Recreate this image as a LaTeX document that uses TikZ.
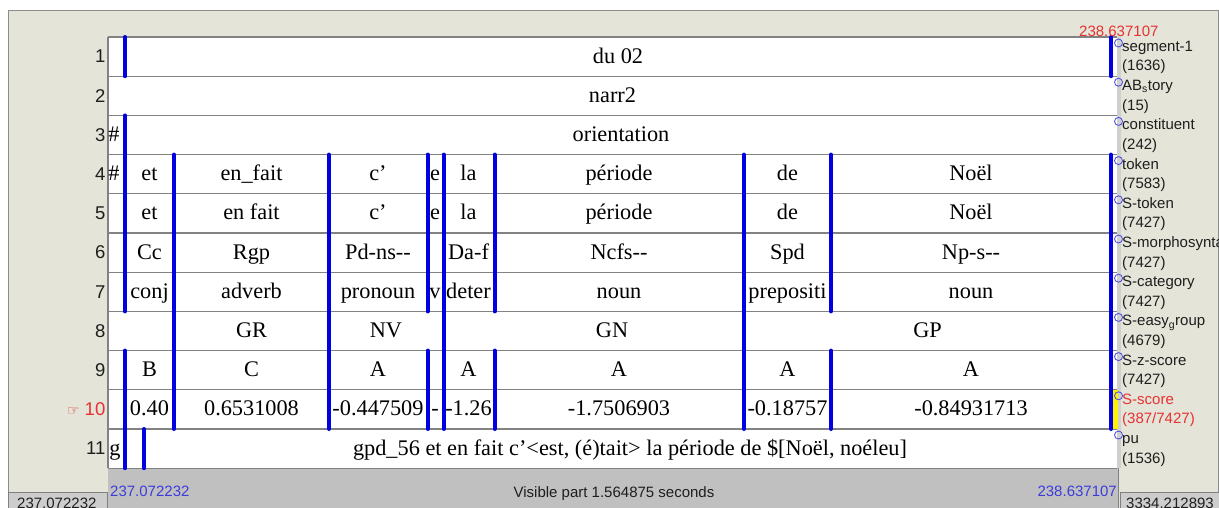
\documentclass[tikz,border=0pt]{standalone}
\usepackage{fontspec}
\setmainfont{Liberation Serif}
\setsansfont{Liberation Sans}
\newfontfamily\dejavu{DejaVu Sans}
\definecolor{beige}{RGB}{228,228,216}
\definecolor{barblue}{RGB}{0,0,225}
\definecolor{gridgray}{RGB}{130,130,130}
\definecolor{bargray}{RGB}{192,192,192}
\definecolor{stripgray}{RGB}{208,208,208}
\definecolor{boxgray}{RGB}{205,205,205}
\definecolor{labblue}{RGB}{60,60,220}
\definecolor{labred}{RGB}{230,50,50}
\definecolor{darktext}{RGB}{30,30,30}
\definecolor{circblue}{RGB}{70,70,230}
\newcommand\cellrow[3]{%
  \foreach \x/\t [count=\k] in {#3} {\node[cell] (r#1c\k) at (\x,#2) {\t};}%
}
\newcommand\tierlab[4]{% #1 name, #2 top y, #3 label, #4 count
  \node[tiername] (#1n) at (1122,#2+14.5) {#3};
  \node[tiername] (#1c) at (1122,#2+34) {#4};
  \draw[tiercirc] (1118.5,#2+6) circle (4);
}
\begin{document}
\begin{tikzpicture}[x=1pt,y=-1pt,
  cell/.style={font=\fontsize{22.3}{24}\selectfont, inner sep=0pt, anchor=base, text=black},
  bar/.style={draw=barblue, line width=4pt, line cap=round},
  rownum/.style={font=\sffamily\fontsize{18.5}{20}\selectfont, anchor=base east, inner sep=0pt, text=darktext},
  tiername/.style={font=\sffamily\fontsize{15}{17}\selectfont, anchor=base west, inner sep=0pt, text=darktext},
  tiercirc/.style={draw=circblue, line width=0.8pt},
  small/.style={font=\sffamily\fontsize{15}{17}\selectfont, inner sep=0pt}]
\useasboundingbox (0,0) rectangle (1219,508);
\fill[white] (0,0) rectangle (1219,508);
\filldraw[fill=beige, draw=gray!90, line width=1pt] (8.5,10.5) rectangle (1218.5,515);
% table area
\fill[white] (108,37) rectangle (1117,468.2);
\fill[bargray] (108,468.2) rectangle (1118.5,508);
\fill[stripgray] (1117,37) rectangle (1121,468.2);
\draw[gray, line width=0.8pt] (1118.5,468.2) -- (1118.5,508);
\foreach \i in {0,...,11} \draw[gridgray, line width=1.3pt] (108,{37+39.2*\i}) -- (1117,{37+39.2*\i});
\draw[gridgray, line width=1.3pt] (108,37) -- (108,468.2);
% yellow selection mark
\fill[yellow] (1113,389.8) rectangle (1117.5,429);
% blue boundaries
\draw[bar] (125,37) -- (125,76.2);
\draw[bar] (1111,37) -- (1111,76.2);
\draw[bar] (125,115.4) -- (125,311.4);
\draw[bar] (125,350.6) -- (125,468.2);
\draw[bar] (144,429) -- (144,468.2);
\draw[bar] (174,154.6) -- (174,429);
\draw[bar] (329,154.6) -- (329,429);
\draw[bar] (427.5,154.6) -- (427.5,311.4);
\draw[bar] (427.5,350.6) -- (427.5,429);
\draw[bar] (443.5,154.6) -- (443.5,429);
\draw[bar] (494.5,154.6) -- (494.5,311.4);
\draw[bar] (494.5,350.6) -- (494.5,429);
\draw[bar] (744,154.6) -- (744,429);
\draw[bar] (831,154.6) -- (831,311.4);
\draw[bar] (831,350.6) -- (831,429);
\draw[bar] (1111,154.6) -- (1111,429);
% cell texts
\node[cell] (t1) at (618,63.1) {du 02};
\node[cell] (t2) at (612.5,102.3) {narr2};
\node[cell] (t3h) at (114,141.5) {\#};
\node[cell] (t3) at (621,141.5) {orientation};
\cellrow{4}{180.7}{114/\#, 149.5/et, 251.5/en\_fait, 378/c’, 435/e, 468.5/la, 619/période, 787.5/de, 971/Noël}
\cellrow{5}{219.9}{149.5/et, 251.5/en fait, 378/c’, 435/e, 468.5/la, 619/période, 787.5/de, 971/Noël}
\cellrow{6}{259.1}{149.5/Cc, 251.5/Rgp, 378/{Pd-ns-{}-}, 468.5/Da-f, 619/{Ncfs-{}-}, 787.5/Spd, 971/{Np-s-{}-}}
\cellrow{7}{298.3}{149.5/conj, 251.5/adverb, 378/pronoun, 435/v, 468.5/deter, 619/noun, 787.5/prepositi, 971/noun}
\cellrow{8}{337.5}{251.5/GR, 386/NV, 612/GN, 927.5/GP}
\cellrow{9}{376.7}{149.5/B, 251.5/C, 378/A, 468.5/A, 619/A, 787.5/A, 971/A}
\cellrow{10}{415.9}{149.5/0.40, 251.5/0.6531008, 378/-0.447509, 435/-, 468.5/-1.26, 619/-1.7506903, 787.5/-0.18757, 971/-0.84931713}
\node[cell] (t11g) at (115,455.1) {g};
\node[cell] (t11) at (630,455.1) {gpd\_56 et en fait c’<est, (é)tait> la période de \$[Noël, noéleu]};
% row numbers
\foreach \i in {1,...,9,11} \node[rownum] (n\i) at (105.5,{56.6+39.2*(\i-1)+6.3}) {\i};
\node[rownum, text=labred] (n10) at (105.5,415.7) {{\dejavu\fontsize{14}{14}\selectfont ☞}\hspace{5pt}10};
% tier labels
\tierlab{seg}{37}{segment-1}{(1636)}
\tierlab{abs}{76.2}{AB\textsubscript{s}tory}{(15)}
\tierlab{con}{115.4}{constituent}{(242)}
\tierlab{tok}{154.6}{token}{(7583)}
\tierlab{stok}{193.8}{S-token}{(7427)}
\tierlab{smor}{233}{S-morphosynta}{(7427)}
\tierlab{scat}{272.2}{S-category}{(7427)}
\tierlab{seas}{311.4}{S-easy\textsubscript{g}roup}{(4679)}
\tierlab{szs}{350.6}{S-z-score}{(7427)}
\tierlab{ssc}{389.8}{\textcolor{labred}{S-score}}{\textcolor{labred}{(387/7427)}}
\tierlab{pu}{429}{pu}{(1536)}
% time labels
\node[small, text=labred, anchor=base west] (tend) at (1079,37) {238.637107};
\node[small, text=labblue, anchor=base west] (bstart) at (110,496.5) {237.072232};
\node[small, text=darktext, anchor=base] (bvis) at (614,497) {Visible part 1.564875 seconds};
\node[small, text=labblue, anchor=base east] (bend) at (1117,496.5) {238.637107};
% corner boxes
\filldraw[fill=boxgray, draw=gray, line width=0.8pt] (8.5,492.5) rectangle (107,512);
\node[small, text=darktext, anchor=base west] (lbox) at (17,508.5) {237.072232};
\filldraw[fill=boxgray, draw=gray, line width=0.8pt] (1120,492.5) rectangle (1225,512);
\node[small, text=darktext, anchor=base west] (rbox) at (1126,508.5) {3334.212893};
\end{tikzpicture}
\end{document}
